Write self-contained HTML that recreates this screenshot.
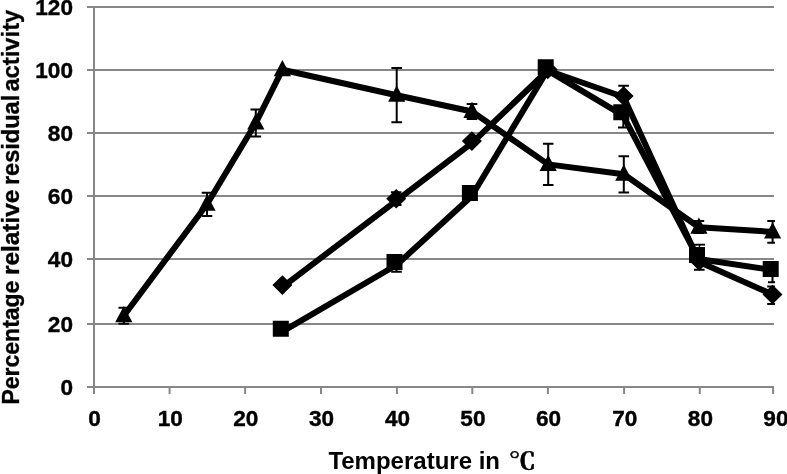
<!DOCTYPE html><html><head><meta charset="utf-8"><title>Chart</title><style>html,body{margin:0;padding:0;background:#fff;}svg{display:block;}</style></head><body>
<svg width="787" height="474" viewBox="0 0 787 474">
<rect width="787" height="474" fill="#fff"/>
<path d="M87 7 H774 M87 70 H774 M87 133 H774 M87 196 H774 M87 259 H774 M87 324 H774 M87 387 H774 M94 7 V394 M169.6 387 V394 M245.1 387 V394 M321 387 V394 M396.9 387 V394 M472.3 387 V394 M547.9 387 V394 M624.1 387 V394 M699.8 387 V394 M773.1 387 V394" stroke="#878787" stroke-width="2" fill="none"/>
<g font-family="'Liberation Sans', Arial, sans-serif" font-weight="bold" fill="#000">
<text x="73" y="14.9" font-size="22.6" text-anchor="end" stroke="#000" stroke-width="0.4">120</text>
<text x="73" y="77.9" font-size="22.6" text-anchor="end" stroke="#000" stroke-width="0.4">100</text>
<text x="73" y="140.9" font-size="22.6" text-anchor="end" stroke="#000" stroke-width="0.4">80</text>
<text x="73" y="203.9" font-size="22.6" text-anchor="end" stroke="#000" stroke-width="0.4">60</text>
<text x="73" y="266.9" font-size="22.6" text-anchor="end" stroke="#000" stroke-width="0.4">40</text>
<text x="73" y="331.9" font-size="22.6" text-anchor="end" stroke="#000" stroke-width="0.4">20</text>
<text x="73" y="394.9" font-size="22.6" text-anchor="end" stroke="#000" stroke-width="0.4">0</text>
<text x="94.6" y="425.8" font-size="22.6" text-anchor="middle" stroke="#000" stroke-width="0.4">0</text>
<text x="170.2" y="425.8" font-size="22.6" text-anchor="middle" stroke="#000" stroke-width="0.4">10</text>
<text x="245.7" y="425.8" font-size="22.6" text-anchor="middle" stroke="#000" stroke-width="0.4">20</text>
<text x="321.6" y="425.8" font-size="22.6" text-anchor="middle" stroke="#000" stroke-width="0.4">30</text>
<text x="397.5" y="425.8" font-size="22.6" text-anchor="middle" stroke="#000" stroke-width="0.4">40</text>
<text x="472.9" y="425.8" font-size="22.6" text-anchor="middle" stroke="#000" stroke-width="0.4">50</text>
<text x="548.5" y="425.8" font-size="22.6" text-anchor="middle" stroke="#000" stroke-width="0.4">60</text>
<text x="624.7" y="425.8" font-size="22.6" text-anchor="middle" stroke="#000" stroke-width="0.4">70</text>
<text x="700.4" y="425.8" font-size="22.6" text-anchor="middle" stroke="#000" stroke-width="0.4">80</text>
<text x="775.9" y="425.8" font-size="22.6" text-anchor="middle" stroke="#000" stroke-width="0.4">90</text>
<text x="328.4" y="469" font-size="24">Temperature in </text>
<text transform="translate(508.9 468.9) scale(1.12 0.955)" x="0" y="0" font-size="24" font-family="'Liberation Serif', 'Noto Serif CJK SC', serif" font-weight="700" stroke="#000" stroke-width="0.55">℃</text>
<g transform="translate(18.6 403) rotate(-90)" font-size="24" stroke="#000" stroke-width="0.35">
<text x="-1.5" y="0" textLength="123.9" lengthAdjust="spacingAndGlyphs">Percentage</text>
<text x="127.9" y="0" textLength="85.5" lengthAdjust="spacingAndGlyphs">relative</text>
<text x="217.9" y="0" textLength="90.3" lengthAdjust="spacingAndGlyphs">residual</text>
<text x="311.4" y="0" textLength="81.9" lengthAdjust="spacingAndGlyphs">activity</text>
</g>
</g>
<g fill="none" stroke="#000" stroke-width="6" stroke-linejoin="round" stroke-linecap="round">
<path d="M123.8 315.7 L207 204.3 L255.8 123 L282.4 69.7 L396.7 95.2 L472 111.5 L548.2 164.4 L623.8 174.3 L698.9 227.3 L772.6 231.9"/>
<path d="M282.4 287.1 L396.2 200.8 L471.9 143.1 L547.7 70.5 L623.6 97 L699.3 262 L772.5 294.5"/>
<path d="M282.3 331.7 L396.5 265 L471.6 196.3 L547.5 70.3 L623 115.3 L698.5 259 L772 270"/>
</g>
<clipPath id="pa"><rect x="0" y="0" width="775" height="474"/></clipPath>
<path d="M123.8 307.7 V323.7 M118.5 307.7 H129.1 M118.5 323.7 H129.1 M207 192.7 V215.9 M201.7 192.7 H212.3 M201.7 215.9 H212.3 M255.8 109.5 V136.4 M250.5 109.5 H261.1 M250.5 136.4 H261.1 M396.7 68.1 V122.3 M391.4 68.1 H402 M391.4 122.3 H402 M472 103.9 V119 M466.7 103.9 H477.3 M466.7 119 H477.3 M548.2 143.7 V185.1 M542.9 143.7 H553.5 M542.9 185.1 H553.5 M623.8 156.2 V192.5 M618.5 156.2 H629.1 M618.5 192.5 H629.1 M698.9 220.9 V233 M693.6 220.9 H704.2 M693.6 233 H704.2 M772.6 221.1 V242.7 M767.3 221.1 H777.9 M767.3 242.7 H777.9 M396.2 192.2 V204.9 M390.9 192.2 H401.5 M390.9 204.9 H401.5 M623.6 85.8 V106 M618.3 85.8 H628.9 M618.3 106 H628.9 M699.3 252 V269.7 M694 252 H704.6 M694 269.7 H704.6 M772.5 286.4 V304 M767.2 286.4 H777.8 M767.2 304 H777.8 M396.5 258.2 V271.8 M391.2 258.2 H401.8 M391.2 271.8 H401.8 M623.3 97 V127.5 M618 97 H628.6 M618 127.5 H628.6" stroke="#000" stroke-width="2" fill="none" clip-path="url(#pa)"/>
<path d="M123.8 306 L132.4 322.2 L115.2 322.2Z M207 194.6 L215.6 210.8 L198.4 210.8Z M255.8 113.3 L264.4 129.5 L247.2 129.5Z M282.4 60 L291 76.2 L273.8 76.2Z M396.7 85.5 L405.3 101.7 L388.1 101.7Z M472 101.8 L480.6 118 L463.4 118Z M548.2 154.7 L556.8 170.9 L539.6 170.9Z M623.8 164.6 L632.4 180.8 L615.2 180.8Z M698.9 217.6 L707.5 233.8 L690.3 233.8Z M772.6 222.2 L781.2 238.4 L764 238.4Z M282.4 275.3 L292.4 285.1 L282.4 294.9 L272.4 285.1Z M396.2 189 L406.2 198.8 L396.2 208.6 L386.2 198.8Z M471.9 131.3 L481.9 141.1 L471.9 150.9 L461.9 141.1Z M547.7 59.7 L557.7 69.5 L547.7 79.3 L537.7 69.5Z M623.6 86.2 L633.6 96 L623.6 105.8 L613.6 96Z M699.3 251.2 L709.3 261 L699.3 270.8 L689.3 261Z M772.5 284.7 L782.5 294.5 L772.5 304.3 L762.5 294.5Z M272.8 320.7 h16 v16 h-16Z M386.5 253.9 h16 v16 h-16Z M461.9 185.1 h16 v16 h-16Z M537.7 59.3 h16 v16 h-16Z M613.3 104.3 h16 v16 h-16Z M689 246.9 h16 v16 h-16Z M762.7 261 h16 v16 h-16Z" fill="#000"/>
<path d="M694 244.8 H705 M699.5 244 V247 M772.5 276 V282.2 M768 282.2 H775" stroke="#000" stroke-width="2" fill="none"/>
<path d="M697 246.4 H698.6 M700.4 246.4 H704.7" stroke="#fff" stroke-width="1.3" fill="none"/>
</svg></body></html>
